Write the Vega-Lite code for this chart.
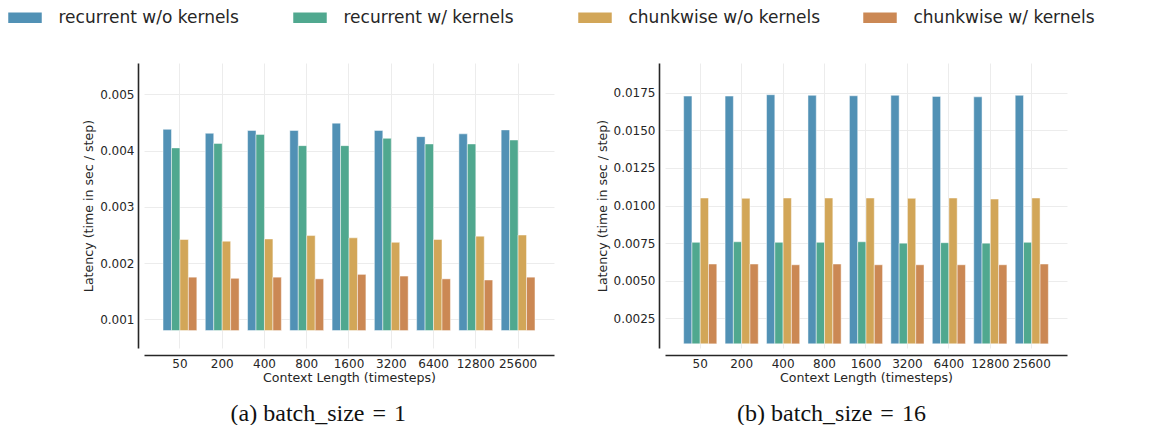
{
  "$schema": "https://vega.github.io/schema/vega-lite/v6.json",
  "padding": {"left": 6, "top": -1, "right": 0, "bottom": 0},
  "autosize": {"type": "pad"},
  "background": "white",
  "config": {
    "font": "DejaVu Sans",
    "view": {"stroke": null},
    "axis": {
      "domainColor": "#262626",
      "domainWidth": 1.6,
      "gridColor": "#ececec",
      "gridWidth": 1,
      "ticks": false,
      "labelFont": "DejaVu Sans",
      "labelFontSize": 12,
      "labelColor": "#262626",
      "titleFont": "DejaVu Sans",
      "titleFontSize": 12.6,
      "titleFontWeight": "normal",
      "titleColor": "#262626"
    },
    "legend": {
      "title": null, "orient": "none", "direction": "horizontal", "columns": 4, "gridAlign": "all", "columnPadding": 39,
      "symbolType": "M-1,-0.343H1V0.343H-1Z", "symbolSize": 1225, "symbolStrokeWidth": 1.5,
      "labelFontSize": 17, "labelFont": "DejaVu Sans", "labelColor": "#262626", "labelOffset": 15, "labelLimit": 400
    },
    "title": {"font": "Liberation Serif", "fontSize": 24, "fontWeight": "normal", "color": "#111111", "orient": "bottom", "anchor": "middle", "frame": "bounds", "offset": 18}
  },
  "data": {
    "values": [
      {"batch": 1, "ctx": "50", "method": "recurrent w/o kernels", "latency": 0.00438},
      {"batch": 1, "ctx": "50", "method": "recurrent w/ kernels", "latency": 0.00405},
      {"batch": 1, "ctx": "50", "method": "chunkwise w/o kernels", "latency": 0.00242},
      {"batch": 1, "ctx": "50", "method": "chunkwise w/ kernels", "latency": 0.00175},
      {"batch": 1, "ctx": "200", "method": "recurrent w/o kernels", "latency": 0.00431},
      {"batch": 1, "ctx": "200", "method": "recurrent w/ kernels", "latency": 0.00413},
      {"batch": 1, "ctx": "200", "method": "chunkwise w/o kernels", "latency": 0.00239},
      {"batch": 1, "ctx": "200", "method": "chunkwise w/ kernels", "latency": 0.00173},
      {"batch": 1, "ctx": "400", "method": "recurrent w/o kernels", "latency": 0.00436},
      {"batch": 1, "ctx": "400", "method": "recurrent w/ kernels", "latency": 0.00429},
      {"batch": 1, "ctx": "400", "method": "chunkwise w/o kernels", "latency": 0.00243},
      {"batch": 1, "ctx": "400", "method": "chunkwise w/ kernels", "latency": 0.00175},
      {"batch": 1, "ctx": "800", "method": "recurrent w/o kernels", "latency": 0.00436},
      {"batch": 1, "ctx": "800", "method": "recurrent w/ kernels", "latency": 0.00409},
      {"batch": 1, "ctx": "800", "method": "chunkwise w/o kernels", "latency": 0.00249},
      {"batch": 1, "ctx": "800", "method": "chunkwise w/ kernels", "latency": 0.00172},
      {"batch": 1, "ctx": "1600", "method": "recurrent w/o kernels", "latency": 0.00449},
      {"batch": 1, "ctx": "1600", "method": "recurrent w/ kernels", "latency": 0.00409},
      {"batch": 1, "ctx": "1600", "method": "chunkwise w/o kernels", "latency": 0.00245},
      {"batch": 1, "ctx": "1600", "method": "chunkwise w/ kernels", "latency": 0.00180},
      {"batch": 1, "ctx": "3200", "method": "recurrent w/o kernels", "latency": 0.00436},
      {"batch": 1, "ctx": "3200", "method": "recurrent w/ kernels", "latency": 0.00422},
      {"batch": 1, "ctx": "3200", "method": "chunkwise w/o kernels", "latency": 0.00237},
      {"batch": 1, "ctx": "3200", "method": "chunkwise w/ kernels", "latency": 0.00177},
      {"batch": 1, "ctx": "6400", "method": "recurrent w/o kernels", "latency": 0.00425},
      {"batch": 1, "ctx": "6400", "method": "recurrent w/ kernels", "latency": 0.00412},
      {"batch": 1, "ctx": "6400", "method": "chunkwise w/o kernels", "latency": 0.00242},
      {"batch": 1, "ctx": "6400", "method": "chunkwise w/ kernels", "latency": 0.00172},
      {"batch": 1, "ctx": "12800", "method": "recurrent w/o kernels", "latency": 0.00430},
      {"batch": 1, "ctx": "12800", "method": "recurrent w/ kernels", "latency": 0.00412},
      {"batch": 1, "ctx": "12800", "method": "chunkwise w/o kernels", "latency": 0.00248},
      {"batch": 1, "ctx": "12800", "method": "chunkwise w/ kernels", "latency": 0.00170},
      {"batch": 1, "ctx": "25600", "method": "recurrent w/o kernels", "latency": 0.00437},
      {"batch": 1, "ctx": "25600", "method": "recurrent w/ kernels", "latency": 0.00419},
      {"batch": 1, "ctx": "25600", "method": "chunkwise w/o kernels", "latency": 0.00250},
      {"batch": 1, "ctx": "25600", "method": "chunkwise w/ kernels", "latency": 0.00175},
      {"batch": 16, "ctx": "50", "method": "recurrent w/o kernels", "latency": 0.01728},
      {"batch": 16, "ctx": "50", "method": "recurrent w/ kernels", "latency": 0.00755},
      {"batch": 16, "ctx": "50", "method": "chunkwise w/o kernels", "latency": 0.01050},
      {"batch": 16, "ctx": "50", "method": "chunkwise w/ kernels", "latency": 0.00611},
      {"batch": 16, "ctx": "200", "method": "recurrent w/o kernels", "latency": 0.01728},
      {"batch": 16, "ctx": "200", "method": "recurrent w/ kernels", "latency": 0.00759},
      {"batch": 16, "ctx": "200", "method": "chunkwise w/o kernels", "latency": 0.01048},
      {"batch": 16, "ctx": "200", "method": "chunkwise w/ kernels", "latency": 0.00611},
      {"batch": 16, "ctx": "400", "method": "recurrent w/o kernels", "latency": 0.01737},
      {"batch": 16, "ctx": "400", "method": "recurrent w/ kernels", "latency": 0.00755},
      {"batch": 16, "ctx": "400", "method": "chunkwise w/o kernels", "latency": 0.01050},
      {"batch": 16, "ctx": "400", "method": "chunkwise w/ kernels", "latency": 0.00606},
      {"batch": 16, "ctx": "800", "method": "recurrent w/o kernels", "latency": 0.01733},
      {"batch": 16, "ctx": "800", "method": "recurrent w/ kernels", "latency": 0.00755},
      {"batch": 16, "ctx": "800", "method": "chunkwise w/o kernels", "latency": 0.01050},
      {"batch": 16, "ctx": "800", "method": "chunkwise w/ kernels", "latency": 0.00611},
      {"batch": 16, "ctx": "1600", "method": "recurrent w/o kernels", "latency": 0.01730},
      {"batch": 16, "ctx": "1600", "method": "recurrent w/ kernels", "latency": 0.00759},
      {"batch": 16, "ctx": "1600", "method": "chunkwise w/o kernels", "latency": 0.01050},
      {"batch": 16, "ctx": "1600", "method": "chunkwise w/ kernels", "latency": 0.00606},
      {"batch": 16, "ctx": "3200", "method": "recurrent w/o kernels", "latency": 0.01733},
      {"batch": 16, "ctx": "3200", "method": "recurrent w/ kernels", "latency": 0.00750},
      {"batch": 16, "ctx": "3200", "method": "chunkwise w/o kernels", "latency": 0.01048},
      {"batch": 16, "ctx": "3200", "method": "chunkwise w/ kernels", "latency": 0.00606},
      {"batch": 16, "ctx": "6400", "method": "recurrent w/o kernels", "latency": 0.01726},
      {"batch": 16, "ctx": "6400", "method": "recurrent w/ kernels", "latency": 0.00753},
      {"batch": 16, "ctx": "6400", "method": "chunkwise w/o kernels", "latency": 0.01050},
      {"batch": 16, "ctx": "6400", "method": "chunkwise w/ kernels", "latency": 0.00606},
      {"batch": 16, "ctx": "12800", "method": "recurrent w/o kernels", "latency": 0.01723},
      {"batch": 16, "ctx": "12800", "method": "recurrent w/ kernels", "latency": 0.00750},
      {"batch": 16, "ctx": "12800", "method": "chunkwise w/o kernels", "latency": 0.01043},
      {"batch": 16, "ctx": "12800", "method": "chunkwise w/ kernels", "latency": 0.00606},
      {"batch": 16, "ctx": "25600", "method": "recurrent w/o kernels", "latency": 0.01733},
      {"batch": 16, "ctx": "25600", "method": "recurrent w/ kernels", "latency": 0.00755},
      {"batch": 16, "ctx": "25600", "method": "chunkwise w/o kernels", "latency": 0.01050},
      {"batch": 16, "ctx": "25600", "method": "chunkwise w/ kernels", "latency": 0.00611}
    ]
  },
  "spacing": 42,
  "resolve": {"scale": {"x": "independent", "y": "independent", "xOffset": "independent"}},
  "hconcat": [
    {
      "width": 410,
      "height": 285,
      "transform": [{"filter": "datum.batch == 1"}],
      "title": {"text": "(a) batch_size\u00a0\u200a=\u00a0\u200a1", "frame": "bounds"},
      "mark": {"type": "bar", "stroke": "white", "strokeWidth": 0.8, "strokeOpacity": 0.6},
      "encoding": {
        "x": {
          "field": "ctx", "type": "nominal",
          "sort": ["50", "200", "400", "800", "1600", "3200", "6400", "12800", "25600"],
          "scale": {"paddingInner": 0.2, "paddingOuter": 0.45},
          "axis": {"title": "Context Length (timesteps)", "labelAngle": 0, "grid": true, "bandPosition": 0.5, "offset": 7, "labelOverlap": false, "labelPadding": 3, "titlePadding": 2}
        },
        "xOffset": {
          "field": "method", "type": "nominal",
          "sort": ["recurrent w/o kernels", "recurrent w/ kernels", "chunkwise w/o kernels", "chunkwise w/ kernels"],
          "scale": {"paddingInner": 0, "paddingOuter": 0}
        },
        "y": {
          "field": "latency", "type": "quantitative",
          "scale": {"domain": [0.00049, 0.00556], "zero": false, "nice": false},
          "axis": {"title": "Latency (time in sec / step)", "values": [0.001, 0.002, 0.003, 0.004, 0.005], "format": ".3f", "offset": 6, "labelPadding": 4, "titlePadding": 4, "grid": true}
        },
        "y2": {"datum": 0.0008},
        "color": {
          "field": "method", "type": "nominal",
          "scale": {
            "domain": ["recurrent w/o kernels", "recurrent w/ kernels", "chunkwise w/o kernels", "chunkwise w/ kernels"],
            "range": ["#5191b5", "#50a88f", "#d2a658", "#cb8854"]
          },
          "legend": {"legendX": -137.5, "legendY": -64}
        }
      }
    },
    {
      "width": 402,
      "height": 285,
      "transform": [{"filter": "datum.batch == 16"}],
      "title": {"text": "(b) batch_size\u00a0\u200a=\u00a0\u200a16", "frame": "bounds"},
      "mark": {"type": "bar", "stroke": "white", "strokeWidth": 0.8, "strokeOpacity": 0.6},
      "encoding": {
        "x": {
          "field": "ctx", "type": "nominal",
          "sort": ["50", "200", "400", "800", "1600", "3200", "6400", "12800", "25600"],
          "scale": {"paddingInner": 0.2, "paddingOuter": 0.45},
          "axis": {"title": "Context Length (timesteps)", "labelAngle": 0, "grid": true, "bandPosition": 0.5, "offset": 7, "labelOverlap": false, "labelPadding": 3, "titlePadding": 2}
        },
        "xOffset": {
          "field": "method", "type": "nominal",
          "sort": ["recurrent w/o kernels", "recurrent w/ kernels", "chunkwise w/o kernels", "chunkwise w/ kernels"],
          "scale": {"paddingInner": 0, "paddingOuter": 0}
        },
        "y": {
          "field": "latency", "type": "quantitative",
          "scale": {"domain": [0.000525, 0.01948], "zero": false, "nice": false},
          "axis": {"title": "Latency (time in sec / step)", "values": [0.0025, 0.005, 0.0075, 0.01, 0.0125, 0.015, 0.0175], "format": ".4f", "offset": 6, "labelPadding": 4, "titlePadding": 4, "grid": true}
        },
        "y2": {"datum": 0.0008},
        "color": {
          "field": "method", "type": "nominal",
          "scale": {
            "domain": ["recurrent w/o kernels", "recurrent w/ kernels", "chunkwise w/o kernels", "chunkwise w/ kernels"],
            "range": ["#5191b5", "#50a88f", "#d2a658", "#cb8854"]
          },
          "legend": {"legendX": -137.5, "legendY": -64}
        }
      }
    }
  ]
}
